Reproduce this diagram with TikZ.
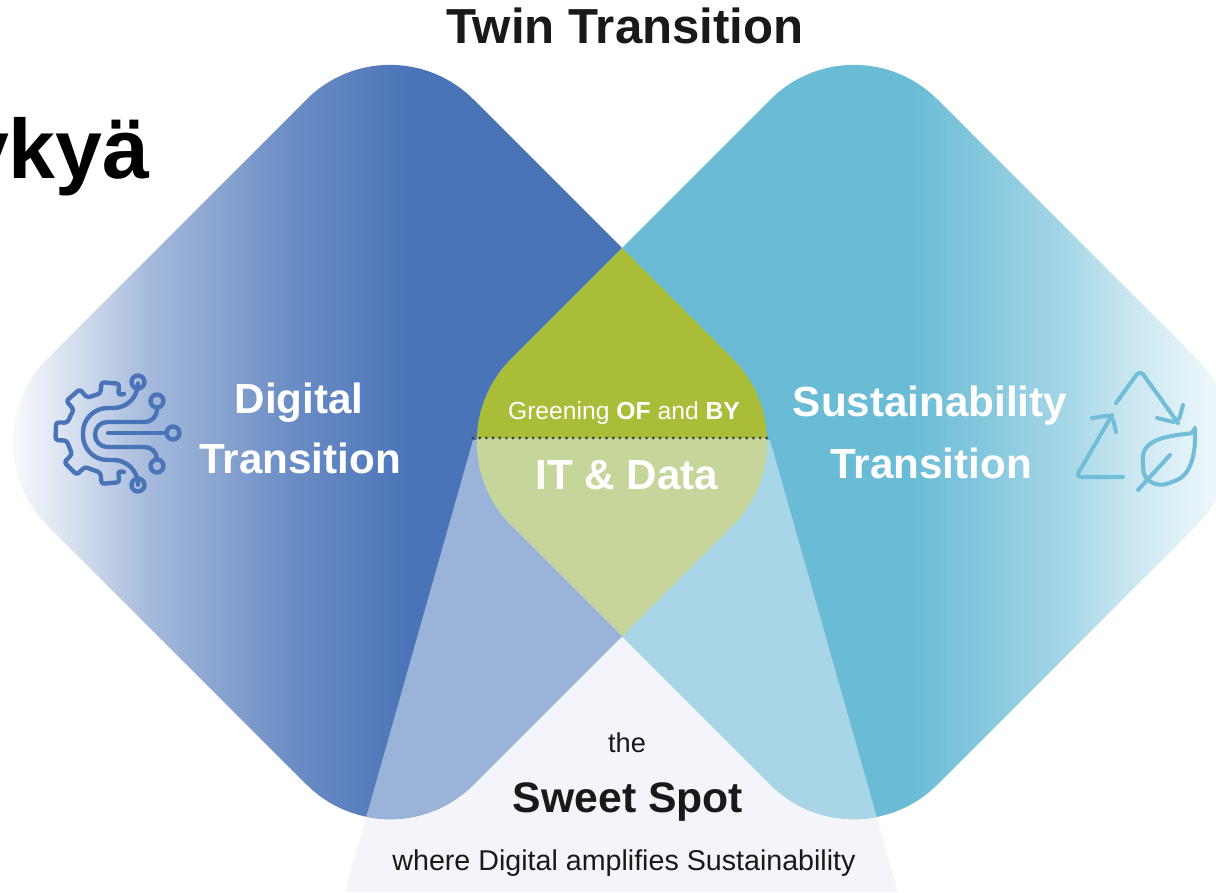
\documentclass[tikz,border=0pt]{standalone}
\usepackage{fontspec}
\setmainfont{Liberation Sans}
\usepackage{tikz}
\newcommand{\fsz}[1]{\fontsize{#1}{#1}\selectfont}
\newcommand{\leftDiamond}{(603,229) -- (816,442) -- (390,868) -- (-36,442) -- (390,16) -- cycle}
\newcommand{\rightDiamond}{(641,229) -- (854,16) -- (1280,442) -- (854,868) -- (428,442) -- cycle}
\newcommand{\beamShape}{(473,440) -- (770,440) -- (898,892) -- (345,892) -- cycle}
\definecolor{digitalblue}{HTML}{4A74B8}
\definecolor{digitallight}{HTML}{9AB3D8}
\definecolor{sustainblue}{HTML}{69BBD6}
\definecolor{sustainlight}{HTML}{A8D6E6}
\definecolor{greendark}{HTML}{A9BD38}
\definecolor{greenlight}{HTML}{C6D59A}
\definecolor{beamgrey}{HTML}{F3F5FA}
\pgfdeclarehorizontalshading{digitalfade}{100bp}{color(0bp)=(white); color(26.9bp)=(white);
  color(29.4bp)=(digitalblue!12); color(32.6bp)=(digitalblue!30); color(35.9bp)=(digitalblue!50);
  color(44.2bp)=(digitalblue!82); color(51.3bp)=(digitalblue); color(100bp)=(digitalblue)}
\pgfdeclarehorizontalshading{sustainfade}{100bp}{color(0bp)=(sustainblue); color(53bp)=(sustainblue);
  color(56.8bp)=(sustainblue!85); color(62bp)=(sustainblue!62); color(65.8bp)=(sustainblue!38);
  color(69bp)=(sustainblue!22); color(73.3bp)=(sustainblue!3); color(100bp)=(white)}
\tikzset{
  rounddiamond/.style={rounded corners=2.36cm},
  headtext/.style={anchor=base,text=black!90,inner sep=0pt},
  whitetext/.style={anchor=base,text=white,inner sep=0pt,font=\bfseries\fsz{24}},
  gearline/.style={draw=digitalblue,line width=2.5pt,line cap=round,line join=round,rounded corners=1.5pt},
  leafline/.style={draw=sustainblue!95,line width=2.3pt,line cap=round,line join=round,rounded corners=3pt}
}
\begin{document}
\begin{tikzpicture}[x=.02cm,y=-.02cm]
  \useasboundingbox (0,0) rectangle (1216,892);
  \clip (0,0) rectangle (1216,892);

  % Draw the beam below the centre
  \fill[beamgrey] \beamShape;

  % Draw the two diamonds
  \shade[rounddiamond,shading=digitalfade] \leftDiamond;
  \shade[rounddiamond,shading=sustainfade] \rightDiamond;

  % Lighter parts inside the beam
  \begin{scope}
    \clip \beamShape;
    \fill[rounddiamond,digitallight] \leftDiamond;
    \fill[rounddiamond,sustainlight] \rightDiamond;
  \end{scope}

  % Fill the overlap of the diamonds
  \begin{scope}
    \clip[rounddiamond] \leftDiamond;
    \clip[rounddiamond] \rightDiamond;
    \fill[greendark] (400,200) rectangle (850,438);
    \fill[greenlight] (400,438) rectangle (850,700);
  \end{scope}

  % Dotted divider
  \coordinate (dotL) at (473,438);
  \coordinate (dotR) at (770,438);
  \draw[black!75,line width=1.8pt,line cap=round,dash pattern=on 0pt off 3.8pt] (dotL) -- (dotR);

  % Gear icon
  \begin{scope}[shift={(106,433)}]
    \draw[gearline] (18,-39) \foreach \a in {85,131,178,225,275} {
      -- (-\a+13:40) -- (-\a+10:51) -- (-\a-10:51) -- (-\a-13:40)
    } -- (18,39);
  \end{scope}
  \foreach \x/\y in {138/382,157/401,173/433,157/466,138/485} {
    \draw[gearline] (\x,\y) circle [radius=6.5];
  }
  \draw[gearline,rounded corners=14pt] (138,389) -- (138,408) -- (83,408) -- (83,460) -- (138,460) -- (138,478);
  \draw[gearline,rounded corners=7pt] (157,408) -- (157,422) -- (95,422) -- (95,447) -- (157,447) -- (157,459);
  \draw[gearline] (166,433) -- (108,433);

  % Recycling icon
  \draw[leafline] (1116,403) -- (1140,370) -- (1178,423);
  \draw[leafline] (1183,405) -- (1178,423) -- (1157,418);
  \draw[leafline] (1123,477) -- (1076,477) -- (1112,415);
  \draw[leafline] (1092,418) -- (1112,415) -- (1116,432);
  \draw[leafline] (1195,433) .. controls (1165,436) and (1142,440) .. (1143,465)
    .. controls (1144,482) and (1158,487) .. (1172,482)
    .. controls (1190,475) and (1195,455) .. (1195,433) -- cycle;
  \draw[leafline] (1138,490) -- (1170,455);

  % Labels
  \node[headtext,font=\bfseries\fsz{28}] (twin) at (625,44) {Twin Transition};
  \node[anchor=base east,inner sep=0pt,font=\bfseries\fsz{48}] (cutword) at (150,178) {ykyä};
  \node[whitetext] (digital) at (299,413) {Digital};
  \node[whitetext] (digitaltrans) at (300,473) {Transition};
  \node[whitetext] (sustain) at (930,416) {Sustainability};
  \node[whitetext] (sustaintrans) at (931,478) {Transition};
  \node[anchor=base,text=white,inner sep=0pt,font=\fsz{14.05}] (greening) at (624,419) {Greening \textbf{OF} and \textbf{BY}};
  \node[whitetext] (itdata) at (627,489) {IT \& Data};
  \node[headtext,font=\fsz{15.5}] (the) at (627,752) {the};
  \node[headtext,font=\bfseries\fsz{24.3}] (sweet) at (628,812) {Sweet Spot};
  \node[headtext,font=\fsz{16.3}] (where) at (624,870) {where Digital amplifies Sustainability};
\end{tikzpicture}
\end{document}
